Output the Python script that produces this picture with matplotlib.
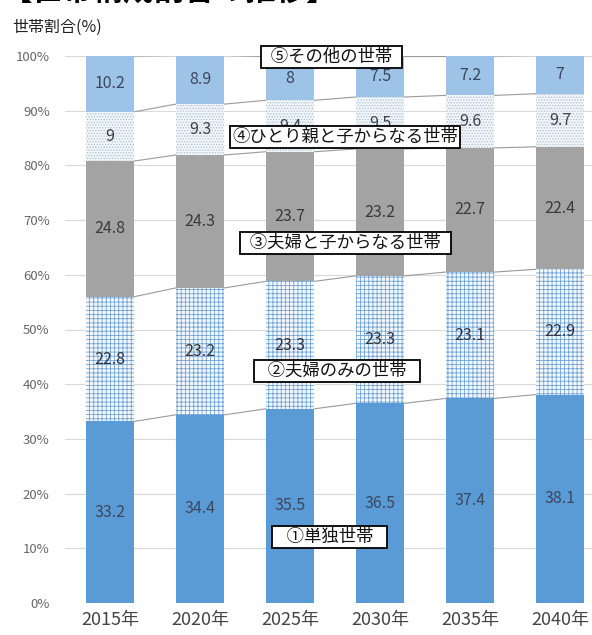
import matplotlib
matplotlib.use("Agg")
import matplotlib.pyplot as plt
import numpy as np

plt.rcParams['font.family'] = ['Noto Sans CJK JP', 'DejaVu Sans']
plt.rcParams['hatch.linewidth'] = 0.6

years = ["2015年", "2020年", "2025年", "2030年", "2035年", "2040年"]
single = [33.2, 34.4, 35.5, 36.5, 37.4, 38.1]
couple_only = [22.8, 23.2, 23.3, 23.3, 23.1, 22.9]
couple_children = [24.8, 24.3, 23.7, 23.2, 22.7, 22.4]
single_parent = [9.0, 9.3, 9.4, 9.5, 9.6, 9.7]
other = [10.2, 8.9, 8.0, 7.5, 7.2, 7.0]
series_names = ["①単独世帯", "②夫婦のみの世帯", "③夫婦と子からなる世帯",
                "④ひとり親と子からなる世帯", "⑤その他の世帯"]
yticks = [0, 10, 20, 30, 40, 50, 60, 70, 80, 90, 100]

series = [single, couple_only, couple_children, single_parent, other]
styles = [
    dict(facecolor="#5B9BD5", edgecolor="#5B9BD5", hatch=None),
    dict(facecolor="#F4F8FC", edgecolor="#6FA3D6", hatch="++++"),
    dict(facecolor="#A3A3A3", edgecolor="#A3A3A3", hatch=None),
    dict(facecolor="#F2F6F9", edgecolor="#A8BFD0", hatch="......"),
    dict(facecolor="#9DC3E6", edgecolor="#9DC3E6", hatch=None),
]
label_colors = ["#3A4760", "#2E3440", "#3A3A3A", "#3A4250", "#3A4760"]
# series name boxes: position (x in category units, y in %) and side padding
name_pos = [(2.44, 12.1), (2.52, 42.4), (2.62, 65.8), (2.61, 85.2), (2.46, 99.8)]
name_pad = [3, 3, 2, 0, 2]

fig = plt.figure(figsize=(5.92, 6.35), dpi=100)
ax = fig.add_axes([65 / 592, 32 / 635, 540 / 592, 547 / 635])

x = np.arange(len(years))
w = 0.54
bottom = np.zeros(len(years))
for vals, st, lc in zip(series, styles, label_colors):
    vals = np.array(vals)
    ax.bar(x, vals, w, bottom=bottom, facecolor=st["facecolor"],
           edgecolor=st["edgecolor"], hatch=st["hatch"], linewidth=0, zorder=2)
    for xi, b, v in zip(x, bottom, vals):
        ax.text(xi, b + v / 2, f"{v:g}", ha="center", va="center",
                fontsize=11.5, color=lc, zorder=4)
    top = bottom + vals
    # series lines joining segment tops of neighbouring bars
    for i in range(len(years) - 1):
        ax.plot([x[i] + w / 2, x[i + 1] - w / 2], [top[i], top[i + 1]],
                color="#9A9A9A", lw=0.8, zorder=1.5)
    bottom = top

for name, (px, py), npad in zip(series_names, name_pos, name_pad):
    ax.text(px, py, " " * npad + name + " " * npad, ha="center", va="center",
            fontsize=12.5, color="#111111", zorder=5,
            bbox=dict(boxstyle="square,pad=0.12", facecolor="white",
                      edgecolor="black", linewidth=1.3))

ax.set_xlim(-0.5, len(years) - 0.5)
ax.set_ylim(0, 100)
ax.set_yticks(yticks)
ax.set_yticklabels([f"{t}%" for t in yticks], fontsize=9.5, color="#666666")
ax.set_xticks(x)
ax.set_xticklabels(years, fontsize=13, color="#444444")
ax.tick_params(axis="both", length=0)
ax.tick_params(axis="y", pad=11)
ax.tick_params(axis="x", pad=6)
ax.grid(axis="y", color="#D9D9D9", lw=0.8, zorder=0)
ax.set_axisbelow(True)
for s in ax.spines.values():
    s.set_visible(False)

fig.text(12 / 592, 1 - 27 / 635, "世帯割合(%)", fontsize=11.5, color="#222222",
         va="center", ha="left")
fig.text(2 / 592, 1 - 0.5 / 635, "【世帯構成割合の推移】", fontsize=22,
         fontweight="bold", color="black", va="baseline", ha="left")

fig.savefig("out.png", dpi=100)
